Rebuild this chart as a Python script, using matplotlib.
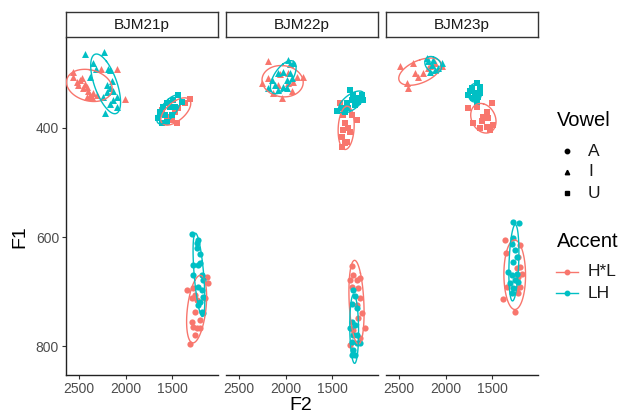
import numpy as np
import matplotlib.pyplot as plt
from matplotlib.lines import Line2D

plt.rcParams['font.family'] = ['Liberation Sans', 'DejaVu Sans']

speakers = ['BJM21p', 'BJM22p', 'BJM23p']
vowels = ['A', 'I', 'U']
accents = ['H*L', 'LH']
accent_colours = {'H*L': '#F8766D', 'LH': '#00BFC4'}
vowel_markers = {'A': 'o', 'I': '^', 'U': 's'}
vowel_sizes = {'A': 20, 'I': 25, 'U': 19}

x_ticks = [2500, 2000, 1500]
y_ticks = [400, 600, 800]

# (F2, F1) tokens in Hz, per speaker / vowel / accent
bjm21p_A_HL = [(1127, 673), (1110, 684), (1342, 697), (1271, 694), (1253, 706), (1288, 712),
               (1234, 716), (1145, 712), (1253, 738), (1199, 752), (1288, 756), (1271, 765),
               (1234, 767), (1199, 767), (1253, 780), (1307, 796)]
bjm21p_A_LH = [(1288, 594), (1217, 605), (1234, 611), (1228, 620), (1199, 631), (1271, 651),
               (1217, 651), (1199, 648), (1277, 670), (1181, 670), (1163, 679), (1217, 692),
               (1181, 697), (1163, 710), (1199, 719), (1217, 725), (1181, 738), (1163, 739)]
bjm21p_I_HL = [(2567, 297), (2266, 292), (2094, 292), (2524, 315), (2489, 312), (2471, 309),
               (2435, 320), (2417, 324), (2453, 327), (2400, 333), (2381, 339), (2417, 343),
               (2363, 343), (2346, 336), (2309, 339), (2005, 347), (2507, 321), (2561, 306)]
bjm21p_I_LH = [(2435, 265), (2231, 260), (2346, 281), (2317, 292), (2185, 292), (2166, 294),
               (2381, 306), (2148, 314), (2202, 321), (2166, 327), (2202, 334), (2131, 333),
               (2094, 343), (2238, 343), (2131, 349), (2166, 356), (2094, 361), (2220, 373)]
bjm21p_U_HL = [(1307, 347), (1360, 354), (1436, 363), (1608, 367), (1554, 380), (1446, 391),
               (1500, 385), (1468, 371)]
bjm21p_U_LH = [(1436, 339), (1489, 349), (1554, 354), (1597, 361), (1629, 371), (1651, 382),
               (1608, 391), (1554, 389), (1500, 376), (1468, 361), (1575, 376), (1522, 361),
               (1393, 352)]

bjm22p_A_HL = [(1288, 654), (1271, 670), (1307, 679), (1234, 679), (1199, 676), (1288, 691),
               (1217, 694), (1199, 712), (1234, 725), (1181, 740), (1217, 749), (1145, 767),
               (1199, 786), (1307, 798), (1271, 771)]
bjm22p_A_LH = [(1271, 697), (1253, 709), (1288, 722), (1234, 731), (1288, 755), (1253, 761),
               (1271, 780), (1288, 792), (1234, 795), (1199, 795), (1271, 807), (1253, 816),
               (1288, 816), (1234, 780), (1307, 767)]
bjm22p_I_HL = [(2191, 278), (2256, 317), (2059, 301), (1970, 300), (1808, 307), (1879, 306),
               (2131, 336), (2034, 345), (1933, 332), (2077, 321), (1970, 318), (2185, 309),
               (1916, 315)]
bjm22p_I_LH = [(1970, 275), (1916, 280), (1951, 283), (2077, 300), (2024, 297), (2148, 312),
               (2113, 321), (1987, 312), (1933, 309), (2077, 330), (2024, 324), (1987, 327),
               (1951, 300), (2185, 327)]
bjm22p_U_HL = [(1414, 355), (1379, 376), (1288, 376), (1234, 385), (1360, 391), (1325, 400),
               (1379, 404), (1307, 407), (1396, 416), (1342, 425), (1396, 434), (1360, 428)]
bjm22p_U_LH = [(1307, 330), (1271, 339), (1181, 339), (1163, 349), (1217, 352), (1288, 349),
               (1342, 355), (1253, 358), (1396, 364), (1450, 368), (1360, 370), (1325, 364),
               (1234, 345)]

bjm23p_A_HL = [(1360, 605), (1350, 630), (1199, 615), (1217, 636), (1199, 655), (1234, 657),
               (1217, 673), (1181, 667), (1342, 691), (1234, 694), (1199, 691), (1385, 714),
               (1253, 737), (1217, 703)]
bjm23p_A_LH = [(1271, 572), (1207, 574), (1271, 602), (1288, 612), (1253, 624), (1234, 636),
               (1271, 645), (1325, 664), (1288, 670), (1234, 667), (1253, 679), (1307, 685),
               (1217, 682), (1288, 703), (1271, 694)]
bjm23p_I_HL = [(2489, 287), (2346, 281), (2417, 318), (2400, 327), (2292, 306), (2238, 300),
               (2185, 290), (2113, 281), (2041, 287), (2166, 287), (2328, 300)]
bjm23p_I_LH = [(2202, 272), (2041, 281), (2148, 284), (2166, 297), (2113, 294), (2077, 290),
               (2185, 278), (2131, 275)]
bjm23p_U_HL = [(1755, 364), (1665, 361), (1503, 355), (1557, 370), (1540, 382), (1611, 388),
               (1701, 391), (1629, 400), (1557, 398), (1486, 394), (1522, 404), (1594, 379)]
bjm23p_U_LH = [(1665, 318), (1629, 324), (1737, 333), (1683, 336), (1755, 339), (1701, 345),
               (1647, 343), (1665, 352), (1629, 336), (1718, 327)]

tokens = {
    'BJM21p': {'A': {'H*L': bjm21p_A_HL, 'LH': bjm21p_A_LH},
               'I': {'H*L': bjm21p_I_HL, 'LH': bjm21p_I_LH},
               'U': {'H*L': bjm21p_U_HL, 'LH': bjm21p_U_LH}},
    'BJM22p': {'A': {'H*L': bjm22p_A_HL, 'LH': bjm22p_A_LH},
               'I': {'H*L': bjm22p_I_HL, 'LH': bjm22p_I_LH},
               'U': {'H*L': bjm22p_U_HL, 'LH': bjm22p_U_LH}},
    'BJM23p': {'A': {'H*L': bjm23p_A_HL, 'LH': bjm23p_A_LH},
               'I': {'H*L': bjm23p_I_HL, 'LH': bjm23p_I_LH},
               'U': {'H*L': bjm23p_U_HL, 'LH': bjm23p_U_LH}},
}


def conf_ellipse(x, y, radius=1.65, n=120):
    # covariance ellipse around the group mean
    cov = np.cov(x, y)
    vals, vecs = np.linalg.eigh(cov)
    t = np.linspace(0, 2 * np.pi, n)
    circle = np.vstack([np.cos(t), np.sin(t)])
    pts = vecs @ (np.sqrt(vals)[:, None] * circle) * radius
    return pts[0] + np.mean(x), pts[1] + np.mean(y)


W, H = 624, 417
fig = plt.figure(figsize=(W / 100, H / 100), dpi=100)

panel_w = 152 / W
panel_bottom = (H - 375) / H
panel_h = 337 / H

for i, spk in enumerate(speakers):
    left = (66 + 160 * i) / W
    ax = fig.add_axes([left, panel_bottom, panel_w, panel_h])

    for vowel in vowels:
        for accent in accents:
            pts = np.array(tokens[spk][vowel][accent])
            ax.scatter(pts[:, 0], pts[:, 1], marker=vowel_markers[vowel],
                       s=vowel_sizes[vowel], color=accent_colours[accent],
                       linewidths=0, zorder=2)
    for vowel in vowels:
        for accent in accents:
            pts = np.array(tokens[spk][vowel][accent])
            ex, ey = conf_ellipse(pts[:, 0], pts[:, 1])
            ax.plot(ex, ey, color=accent_colours[accent], lw=1.0, zorder=3)

    ax.set_xlim(2640, 1006)
    ax.set_ylim(853, 235)
    ax.set_xticks(x_ticks)
    ax.set_yticks(y_ticks)
    ax.spines['top'].set_visible(False)
    ax.spines['right'].set_visible(False)
    for side in ('bottom', 'left'):
        ax.spines[side].set_color('#222222')
        ax.spines[side].set_linewidth(1.0)
    ax.tick_params(length=3, width=0.8, color='#333333', labelcolor='#4D4D4D',
                   labelsize=10, pad=2)
    if i > 0:
        ax.spines['left'].set_visible(False)
        ax.tick_params(axis='y', left=False, labelleft=False)

    # facet strip
    sax = fig.add_axes([left, (H - 37) / H, panel_w, 25 / H])
    sax.set_xticks([])
    sax.set_yticks([])
    for sp in sax.spines.values():
        sp.set_color('#333333')
        sp.set_linewidth(1.0)
    sax.text(0.5, 0.5, spk, ha='center', va='center', fontsize=11, color='#1A1A1A',
             transform=sax.transAxes)

fig.text(20 / W, 1 - 237 / H, 'F1', rotation=90, ha='center', va='center', fontsize=14)
fig.text(301 / W, 1 - 405 / H, 'F2', ha='center', va='center', fontsize=14)

# legends
fig.text(557 / W, 1 - 120 / H, 'Vowel', ha='left', va='center', fontsize=14.5)
for j, vowel in enumerate(vowels):
    yy = 1 - (151 + 21 * j) / H
    fig.add_artist(Line2D([567 / W], [yy], marker=vowel_markers[vowel], color='black',
                          markersize=3.2, linestyle='none', transform=fig.transFigure))
    fig.text(588 / W, yy, vowel, ha='left', va='center', fontsize=12.5, color='#1A1A1A')

fig.text(557 / W, 1 - 242 / H, 'Accent', ha='left', va='center', fontsize=14.5)
for j, accent in enumerate(accents):
    yy = 1 - (272 + 21 * j) / H
    fig.add_artist(Line2D([556 / W, 578 / W], [yy, yy], color=accent_colours[accent],
                          lw=1.0, transform=fig.transFigure))
    fig.add_artist(Line2D([567 / W], [yy], marker='o', color=accent_colours[accent],
                          markersize=3.2, linestyle='none', transform=fig.transFigure))
    fig.text(588 / W, yy, accent, ha='left', va='center', fontsize=12.5, color='#1A1A1A')

fig.savefig('out.png', dpi=100)
